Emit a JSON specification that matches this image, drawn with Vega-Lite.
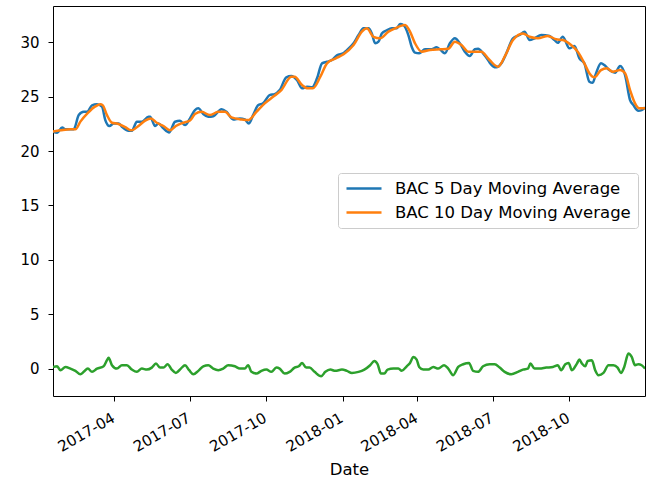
{
  "$schema": "https://vega.github.io/schema/vega-lite/v6.json",
  "width": 592,
  "height": 390,
  "autosize": {"type": "none"},
  "padding": {"left": 53, "top": 6, "right": 17, "bottom": 83},
  "background": "white",
  "config": {
    "font": "DejaVu Sans",
    "view": {"stroke": "#000000", "strokeWidth": 1},
    "axis": {
      "domain": false,
      "grid": false,
      "ticks": true,
      "tickColor": "#000000",
      "tickSize": 5,
      "tickWidth": 1,
      "labelColor": "#000000",
      "labelFont": "DejaVu Sans",
      "labelFontSize": 15,
      "titleFont": "DejaVu Sans",
      "titleFontSize": 16.5,
      "titleFontWeight": "normal",
      "titleColor": "#000000"
    }
  },
  "datasets": {
    "ma5": [
      {"Date":"2017-01-17","value":21.77},{"Date":"2017-01-22","value":21.68},{"Date":"2017-01-28","value":22.17},{"Date":"2017-02-01","value":21.99},{"Date":"2017-02-11","value":22.0},{"Date":"2017-02-17","value":23.3},{"Date":"2017-02-23","value":23.6},{"Date":"2017-02-27","value":23.6},{"Date":"2017-03-05","value":24.2},{"Date":"2017-03-11","value":24.3},{"Date":"2017-03-17","value":24.07},{"Date":"2017-03-21","value":22.84},{"Date":"2017-03-26","value":22.29},{"Date":"2017-03-31","value":22.54},{"Date":"2017-04-06","value":22.54},{"Date":"2017-04-10","value":22.23},{"Date":"2017-04-18","value":21.86},{"Date":"2017-04-22","value":21.86},{"Date":"2017-04-28","value":22.69},{"Date":"2017-05-04","value":22.69},{"Date":"2017-05-12","value":23.15},{"Date":"2017-05-14","value":23.15},{"Date":"2017-05-20","value":22.29},{"Date":"2017-05-24","value":22.54},{"Date":"2017-05-30","value":22.08},{"Date":"2017-06-06","value":21.71},{"Date":"2017-06-13","value":22.69},{"Date":"2017-06-19","value":22.78},{"Date":"2017-06-25","value":22.38},{"Date":"2017-07-01","value":23.0},{"Date":"2017-07-07","value":23.76},{"Date":"2017-07-11","value":23.92},{"Date":"2017-07-17","value":23.4},{"Date":"2017-07-23","value":23.15},{"Date":"2017-07-29","value":23.2},{"Date":"2017-08-08","value":23.85},{"Date":"2017-08-14","value":23.6},{"Date":"2017-08-22","value":22.9},{"Date":"2017-08-30","value":23.0},{"Date":"2017-09-05","value":22.9},{"Date":"2017-09-10","value":22.54},{"Date":"2017-09-15","value":23.3},{"Date":"2017-09-21","value":24.2},{"Date":"2017-09-27","value":24.38},{"Date":"2017-10-05","value":25.14},{"Date":"2017-10-11","value":25.23},{"Date":"2017-10-17","value":25.6},{"Date":"2017-10-25","value":26.77},{"Date":"2017-10-31","value":26.89},{"Date":"2017-11-07","value":26.5},{"Date":"2017-11-13","value":25.76},{"Date":"2017-11-19","value":25.9},{"Date":"2017-11-25","value":25.85},{"Date":"2017-12-01","value":26.68},{"Date":"2017-12-07","value":28.06},{"Date":"2017-12-13","value":28.2},{"Date":"2017-12-19","value":28.36},{"Date":"2017-12-25","value":28.8},{"Date":"2018-01-02","value":29.0},{"Date":"2018-01-06","value":29.28},{"Date":"2018-01-14","value":29.9},{"Date":"2018-01-20","value":30.66},{"Date":"2018-01-26","value":31.28},{"Date":"2018-02-01","value":31.28},{"Date":"2018-02-05","value":30.8},{"Date":"2018-02-09","value":29.9},{"Date":"2018-02-13","value":30.05},{"Date":"2018-02-17","value":30.8},{"Date":"2018-02-23","value":31.1},{"Date":"2018-03-01","value":31.28},{"Date":"2018-03-07","value":31.28},{"Date":"2018-03-11","value":31.67},{"Date":"2018-03-15","value":31.58},{"Date":"2018-03-21","value":30.66},{"Date":"2018-03-25","value":29.59},{"Date":"2018-03-29","value":29.04},{"Date":"2018-04-03","value":28.98},{"Date":"2018-04-10","value":29.35},{"Date":"2018-04-18","value":29.35},{"Date":"2018-04-24","value":29.53},{"Date":"2018-04-28","value":29.35},{"Date":"2018-05-04","value":28.98},{"Date":"2018-05-10","value":29.9},{"Date":"2018-05-16","value":30.36},{"Date":"2018-05-22","value":29.9},{"Date":"2018-05-28","value":29.13},{"Date":"2018-06-03","value":28.73},{"Date":"2018-06-09","value":29.35},{"Date":"2018-06-13","value":29.4},{"Date":"2018-06-19","value":28.98},{"Date":"2018-06-25","value":28.36},{"Date":"2018-06-27","value":28.12},{"Date":"2018-07-05","value":27.69},{"Date":"2018-07-11","value":28.06},{"Date":"2018-07-17","value":28.98},{"Date":"2018-07-25","value":30.36},{"Date":"2018-08-02","value":30.66},{"Date":"2018-08-08","value":30.97},{"Date":"2018-08-14","value":30.2},{"Date":"2018-08-20","value":30.36},{"Date":"2018-08-28","value":30.66},{"Date":"2018-09-07","value":30.57},{"Date":"2018-09-13","value":30.2},{"Date":"2018-09-17","value":29.95},{"Date":"2018-09-23","value":30.5},{"Date":"2018-10-01","value":29.44},{"Date":"2018-10-07","value":29.65},{"Date":"2018-10-13","value":28.52},{"Date":"2018-10-19","value":28.06},{"Date":"2018-10-25","value":26.37},{"Date":"2018-10-29","value":26.27},{"Date":"2018-11-02","value":27.14},{"Date":"2018-11-08","value":28.06},{"Date":"2018-11-12","value":27.9},{"Date":"2018-11-18","value":27.44},{"Date":"2018-11-25","value":27.2},{"Date":"2018-12-01","value":27.81},{"Date":"2018-12-07","value":26.98},{"Date":"2018-12-13","value":24.68},{"Date":"2018-12-17","value":24.22},{"Date":"2018-12-23","value":23.7},{"Date":"2018-12-27","value":23.76},{"Date":"2018-12-31","value":24.0}
    ],
    "ma10": [
      {"Date":"2017-01-17","value":21.8},{"Date":"2017-01-26","value":21.9},{"Date":"2017-02-07","value":22.0},{"Date":"2017-02-13","value":22.0},{"Date":"2017-02-19","value":22.7},{"Date":"2017-02-28","value":23.5},{"Date":"2017-03-09","value":24.1},{"Date":"2017-03-15","value":24.3},{"Date":"2017-03-18","value":24.2},{"Date":"2017-03-23","value":23.3},{"Date":"2017-03-29","value":22.6},{"Date":"2017-04-05","value":22.5},{"Date":"2017-04-14","value":22.2},{"Date":"2017-04-21","value":21.9},{"Date":"2017-04-30","value":22.3},{"Date":"2017-05-08","value":22.8},{"Date":"2017-05-15","value":23.0},{"Date":"2017-05-22","value":22.6},{"Date":"2017-05-30","value":22.3},{"Date":"2017-06-07","value":21.9},{"Date":"2017-06-14","value":22.3},{"Date":"2017-06-23","value":22.6},{"Date":"2017-07-01","value":22.8},{"Date":"2017-07-07","value":23.4},{"Date":"2017-07-15","value":23.6},{"Date":"2017-07-25","value":23.3},{"Date":"2017-08-04","value":23.6},{"Date":"2017-08-12","value":23.6},{"Date":"2017-08-20","value":23.09},{"Date":"2017-09-01","value":22.9},{"Date":"2017-09-09","value":22.84},{"Date":"2017-09-19","value":23.6},{"Date":"2017-09-29","value":24.38},{"Date":"2017-10-09","value":24.98},{"Date":"2017-10-19","value":25.6},{"Date":"2017-10-31","value":26.83},{"Date":"2017-11-04","value":26.83},{"Date":"2017-11-13","value":26.06},{"Date":"2017-11-20","value":25.76},{"Date":"2017-11-26","value":25.76},{"Date":"2017-12-05","value":26.83},{"Date":"2017-12-13","value":28.06},{"Date":"2017-12-23","value":28.5},{"Date":"2018-01-02","value":28.9},{"Date":"2018-01-14","value":29.74},{"Date":"2018-01-24","value":30.97},{"Date":"2018-01-30","value":31.28},{"Date":"2018-02-07","value":30.5},{"Date":"2018-02-15","value":30.36},{"Date":"2018-02-25","value":30.97},{"Date":"2018-03-05","value":31.28},{"Date":"2018-03-17","value":31.58},{"Date":"2018-03-23","value":30.97},{"Date":"2018-03-29","value":29.9},{"Date":"2018-04-06","value":29.13},{"Date":"2018-04-16","value":29.28},{"Date":"2018-04-28","value":29.35},{"Date":"2018-05-08","value":29.4},{"Date":"2018-05-16","value":30.05},{"Date":"2018-05-24","value":29.74},{"Date":"2018-06-01","value":29.13},{"Date":"2018-06-09","value":29.13},{"Date":"2018-06-17","value":29.13},{"Date":"2018-06-25","value":28.52},{"Date":"2018-06-27","value":28.36},{"Date":"2018-07-07","value":27.75},{"Date":"2018-07-15","value":28.67},{"Date":"2018-07-25","value":30.2},{"Date":"2018-08-06","value":30.8},{"Date":"2018-08-14","value":30.5},{"Date":"2018-08-24","value":30.36},{"Date":"2018-09-05","value":30.57},{"Date":"2018-09-15","value":30.27},{"Date":"2018-09-23","value":30.2},{"Date":"2018-10-03","value":29.74},{"Date":"2018-10-11","value":29.13},{"Date":"2018-10-19","value":28.06},{"Date":"2018-10-25","value":27.14},{"Date":"2018-10-31","value":26.77},{"Date":"2018-11-08","value":27.44},{"Date":"2018-11-15","value":27.6},{"Date":"2018-11-22","value":27.29},{"Date":"2018-12-01","value":27.44},{"Date":"2018-12-07","value":27.14},{"Date":"2018-12-13","value":25.6},{"Date":"2018-12-19","value":24.38},{"Date":"2018-12-24","value":23.92},{"Date":"2018-12-31","value":23.92}
    ],
    "diff": [
      {"Date":"2017-01-17","value":0.15},{"Date":"2017-01-22","value":0.21},{"Date":"2017-01-26","value":-0.15},{"Date":"2017-02-01","value":0.15},{"Date":"2017-02-07","value":0},{"Date":"2017-02-13","value":-0.21},{"Date":"2017-02-19","value":-0.52},{"Date":"2017-02-23","value":-0.3},{"Date":"2017-02-28","value":0},{"Date":"2017-03-05","value":-0.3},{"Date":"2017-03-11","value":0},{"Date":"2017-03-19","value":0.21},{"Date":"2017-03-23","value":0.77},{"Date":"2017-03-25","value":1.0},{"Date":"2017-03-29","value":0.31},{"Date":"2017-04-04","value":0},{"Date":"2017-04-10","value":0.31},{"Date":"2017-04-16","value":0.31},{"Date":"2017-04-22","value":-0.09},{"Date":"2017-04-28","value":-0.3},{"Date":"2017-05-04","value":0},{"Date":"2017-05-10","value":-0.09},{"Date":"2017-05-16","value":0.09},{"Date":"2017-05-21","value":0.46},{"Date":"2017-05-26","value":0.09},{"Date":"2017-05-30","value":0.09},{"Date":"2017-06-04","value":0.4},{"Date":"2017-06-09","value":-0.09},{"Date":"2017-06-14","value":-0.4},{"Date":"2017-06-20","value":0},{"Date":"2017-06-25","value":0.31},{"Date":"2017-06-30","value":-0.15},{"Date":"2017-07-05","value":-0.52},{"Date":"2017-07-11","value":-0.21},{"Date":"2017-07-17","value":0.21},{"Date":"2017-07-23","value":0.31},{"Date":"2017-07-29","value":0},{"Date":"2017-08-04","value":-0.15},{"Date":"2017-08-10","value":0},{"Date":"2017-08-16","value":0.31},{"Date":"2017-08-24","value":0.21},{"Date":"2017-08-30","value":0},{"Date":"2017-09-05","value":0},{"Date":"2017-09-09","value":0.31},{"Date":"2017-09-13","value":-0.3},{"Date":"2017-09-19","value":-0.46},{"Date":"2017-09-25","value":-0.21},{"Date":"2017-10-01","value":-0.09},{"Date":"2017-10-07","value":-0.3},{"Date":"2017-10-13","value":0.09},{"Date":"2017-10-17","value":0},{"Date":"2017-10-23","value":-0.46},{"Date":"2017-10-29","value":-0.3},{"Date":"2017-11-04","value":0.09},{"Date":"2017-11-09","value":0.21},{"Date":"2017-11-13","value":0.52},{"Date":"2017-11-18","value":0.09},{"Date":"2017-11-22","value":0.09},{"Date":"2017-11-28","value":-0.3},{"Date":"2017-12-06","value":-0.7},{"Date":"2017-12-11","value":-0.3},{"Date":"2017-12-17","value":-0.09},{"Date":"2017-12-23","value":-0.21},{"Date":"2017-12-31","value":-0.09},{"Date":"2018-01-06","value":-0.21},{"Date":"2018-01-12","value":-0.4},{"Date":"2018-01-20","value":-0.3},{"Date":"2018-01-27","value":-0.09},{"Date":"2018-02-03","value":0.31},{"Date":"2018-02-08","value":0.7},{"Date":"2018-02-12","value":0.4},{"Date":"2018-02-16","value":-0.46},{"Date":"2018-02-20","value":-0.46},{"Date":"2018-02-24","value":-0.09},{"Date":"2018-03-03","value":0},{"Date":"2018-03-09","value":0},{"Date":"2018-03-13","value":-0.21},{"Date":"2018-03-19","value":0.21},{"Date":"2018-03-23","value":0.52},{"Date":"2018-03-27","value":1.07},{"Date":"2018-03-31","value":0.83},{"Date":"2018-04-03","value":0.15},{"Date":"2018-04-08","value":-0.09},{"Date":"2018-04-14","value":-0.09},{"Date":"2018-04-20","value":0.15},{"Date":"2018-04-26","value":0},{"Date":"2018-05-03","value":0.31},{"Date":"2018-05-08","value":0},{"Date":"2018-05-14","value":-0.61},{"Date":"2018-05-20","value":0.15},{"Date":"2018-05-26","value":0.4},{"Date":"2018-06-02","value":0.52},{"Date":"2018-06-07","value":-0.21},{"Date":"2018-06-13","value":-0.3},{"Date":"2018-06-19","value":0.21},{"Date":"2018-06-27","value":0.4},{"Date":"2018-07-03","value":0.4},{"Date":"2018-07-09","value":0.09},{"Date":"2018-07-15","value":-0.3},{"Date":"2018-07-23","value":-0.52},{"Date":"2018-07-31","value":-0.3},{"Date":"2018-08-06","value":-0.09},{"Date":"2018-08-12","value":0},{"Date":"2018-08-15","value":0.46},{"Date":"2018-08-20","value":0},{"Date":"2018-08-26","value":0},{"Date":"2018-09-03","value":0.09},{"Date":"2018-09-11","value":0.15},{"Date":"2018-09-17","value":0.31},{"Date":"2018-09-21","value":-0.15},{"Date":"2018-09-26","value":0.4},{"Date":"2018-09-30","value":0.52},{"Date":"2018-10-04","value":-0.15},{"Date":"2018-10-10","value":0.46},{"Date":"2018-10-13","value":0.83},{"Date":"2018-10-16","value":0.46},{"Date":"2018-10-20","value":0.21},{"Date":"2018-10-23","value":0.7},{"Date":"2018-10-28","value":0.77},{"Date":"2018-11-01","value":-0.15},{"Date":"2018-11-05","value":-0.61},{"Date":"2018-11-11","value":-0.4},{"Date":"2018-11-17","value":0.31},{"Date":"2018-11-23","value":0.31},{"Date":"2018-11-28","value":0.09},{"Date":"2018-12-02","value":-0.4},{"Date":"2018-12-06","value":0.15},{"Date":"2018-12-11","value":1.38},{"Date":"2018-12-15","value":1.07},{"Date":"2018-12-19","value":0.31},{"Date":"2018-12-23","value":0.4},{"Date":"2018-12-27","value":0.31},{"Date":"2018-12-31","value":0}
    ]
  },
  "encoding": {
    "x": {
      "field": "Date",
      "type": "temporal",
      "title": "Date",
      "scale": {
        "type": "utc",
        "domain": [
          {"year": 2017, "month": 1, "date": 17, "utc": true},
          {"year": 2018, "month": 12, "date": 31, "utc": true}
        ]
      },
      "axis": {
        "values": [
          {"year": 2017, "month": 4, "date": 1, "utc": true},
          {"year": 2017, "month": 7, "date": 1, "utc": true},
          {"year": 2017, "month": 10, "date": 1, "utc": true},
          {"year": 2018, "month": 1, "date": 1, "utc": true},
          {"year": 2018, "month": 4, "date": 1, "utc": true},
          {"year": 2018, "month": 7, "date": 1, "utc": true},
          {"year": 2018, "month": 10, "date": 1, "utc": true}
        ],
        "labelExpr": "utcFormat(datum.value, '%Y-%m')",
        "labelAngle": -30,
        "labelAlign": "right",
        "labelBaseline": "top",
        "labelPadding": 9,
        "labelOffset": -5,
        "titlePadding": 7
      }
    },
    "y": {
      "field": "value",
      "type": "quantitative",
      "title": null,
      "scale": {"domain": [-2.52, 33.33], "nice": false, "zero": false},
      "axis": {"values": [0, 5, 10, 15, 20, 25, 30], "labelPadding": 9}
    }
  },
  "layer": [
    {
      "data": {"name": "ma5"},
      "mark": {"type": "line", "strokeWidth": 2.5, "clip": true, "interpolate": "monotone"},
      "encoding": {
        "color": {
          "datum": "BAC 5 Day Moving Average",
          "type": "nominal",
          "scale": {
            "domain": ["BAC 5 Day Moving Average", "BAC 10 Day Moving Average"],
            "range": ["#1f77b4", "#ff7f0e"]
          },
          "legend": {
            "title": null,
            "orient": "none",
            "legendX": 285,
            "legendY": 167,
            "symbolType": "stroke",
            "symbolSize": 1225,
            "symbolStrokeWidth": 2.5,
            "labelFont": "DejaVu Sans",
            "labelFontSize": 16.5,
            "labelColor": "#000000",
            "labelOffset": 12,
            "labelLimit": 400,
            "clipHeight": 17,
            "rowPadding": 7,
            "padding": 7,
            "strokeColor": "#cccccc",
            "fillColor": "#ffffff",
            "cornerRadius": 3
          }
        }
      }
    },
    {
      "data": {"name": "ma10"},
      "mark": {"type": "line", "strokeWidth": 2.5, "clip": true, "interpolate": "monotone"},
      "encoding": {
        "color": {"datum": "BAC 10 Day Moving Average", "type": "nominal"}
      }
    },
    {
      "data": {"name": "diff"},
      "mark": {"type": "line", "strokeWidth": 2.5, "color": "#2ca02c", "clip": true, "interpolate": "monotone"},
      "encoding": {}
    }
  ]
}
